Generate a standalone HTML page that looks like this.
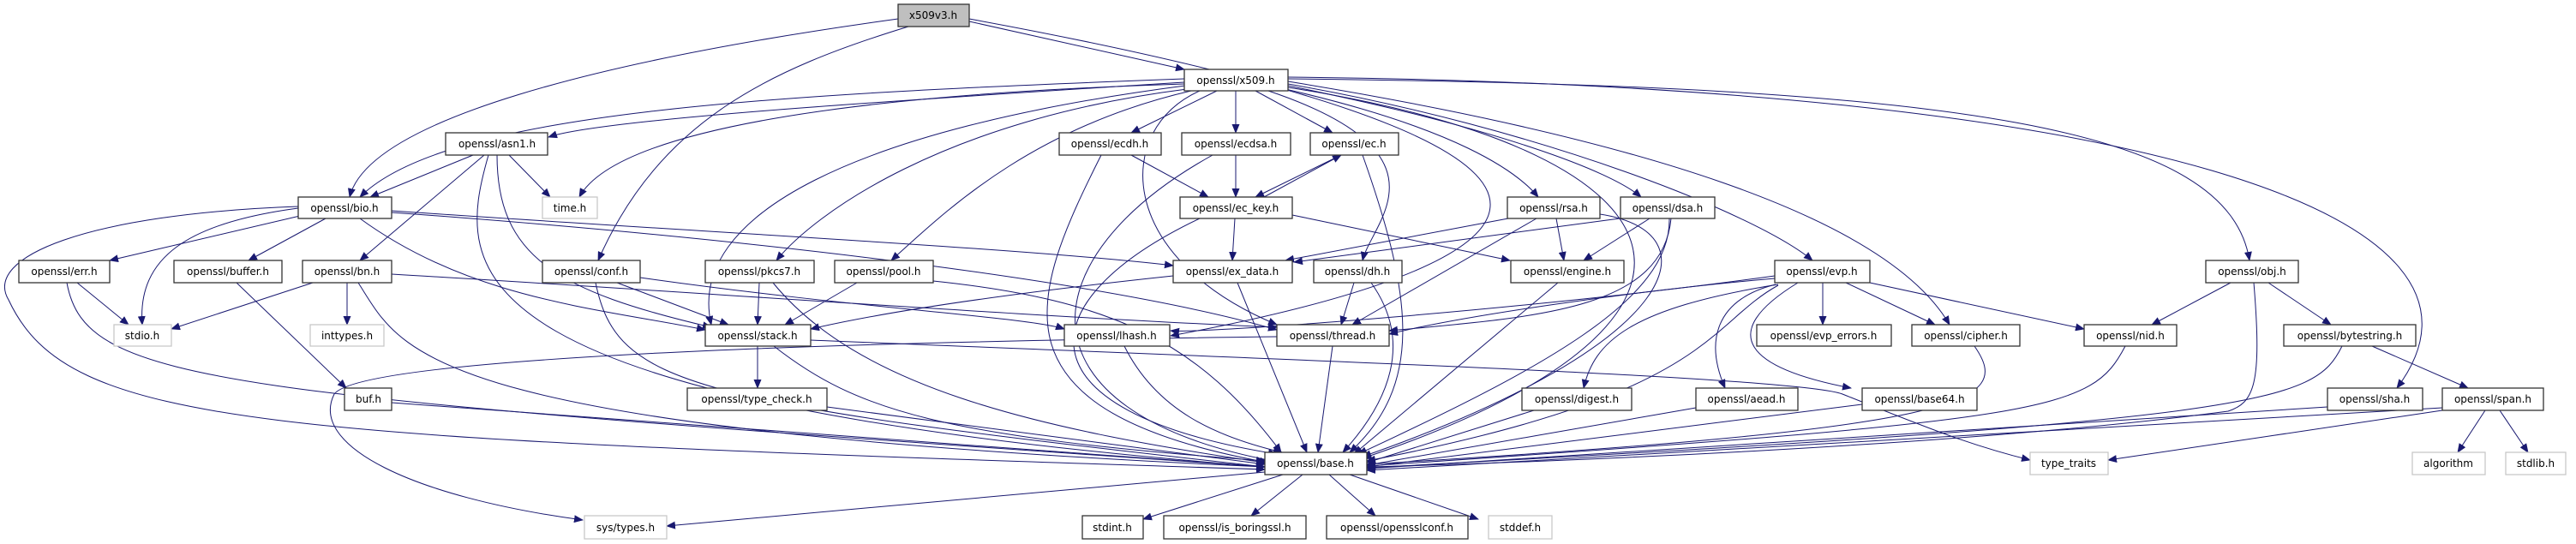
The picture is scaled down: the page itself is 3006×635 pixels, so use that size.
<!DOCTYPE html>
<html><head><meta charset="utf-8"><style>
html,body{margin:0;padding:0;background:#fff;}
svg{display:block;}
text{font-family:"DejaVu Sans","Liberation Sans",sans-serif;font-size:12px;fill:#000;}
</style></head><body>
<svg width="3006" height="635" viewBox="0 0 3006 635" xmlns="http://www.w3.org/2000/svg">
<defs>
<marker id="a" markerWidth="11" markerHeight="9" refX="10" refY="4.5" orient="auto" markerUnits="userSpaceOnUse">
<path d="M0,0 L11,4.5 L0,9 z" fill="#191970"/>
</marker>
</defs>
<g fill="none" stroke="#191970" stroke-width="1" marker-end="url(#a)">
<path d="M1131 25 L1382 81"/>
<path d="M1048 22 C700 70 430 140 408 230"/>
<path d="M1060 31 C900 80 770 140 698 304"/>
<path d="M1131 22 C2100 200 1700 330 1366 392"/>
<path d="M1382 96 C1000 120 700 140 640 160"/>
<path d="M1382 92 C900 110 520 130 420 230"/>
<path d="M1382 98 C1000 110 720 150 676 230"/>
<path d="M1420 106 L1320 155"/>
<path d="M1442 106 L1442 155"/>
<path d="M1465 106 L1555 155"/>
<path d="M1390 106 C1200 150 1100 250 1040 304"/>
<path d="M1385 104 C1100 140 950 250 906 304"/>
<path d="M1383 100 C1000 150 800 250 830 379"/>
<path d="M1400 106 C1300 150 1300 300 1490 379"/>
<path d="M1480 106 C1700 180 1600 260 1590 304"/>
<path d="M1500 104 C1700 150 1770 200 1795 230"/>
<path d="M1503 100 C1750 150 1880 200 1915 230"/>
<path d="M1503 98 C1800 150 2050 250 2115 304"/>
<path d="M1503 95 C1900 160 2200 250 2275 379"/>
<path d="M1503 92 C2300 100 2600 150 2625 304"/>
<path d="M1503 90 C2500 100 2950 250 2797 453"/>
<path d="M1503 102 C2000 180 2050 380 1590 535"/>
<path d="M1320 181 L1410 230"/>
<path d="M1285 181 C1200 350 1150 480 1480 540"/>
<path d="M1442 181 L1442 230"/>
<path d="M1415 181 C1200 300 1180 480 1485 538"/>
<path d="M1565 181 L1465 230"/>
<path d="M1475 230 L1565 181"/>
<path d="M1590 181 C1650 350 1660 450 1575 528"/>
<path d="M1441 255 L1438 304"/>
<path d="M1508 251 L1762 304"/>
<path d="M1400 255 C1200 350 1180 480 1490 530"/>
<path d="M552 181 L432 230"/>
<path d="M594 181 L642 230"/>
<path d="M565 181 L420 304"/>
<path d="M580 181 C580 300 650 340 830 382"/>
<path d="M570 181 C530 320 520 470 1476 545"/>
<path d="M350 252 L128 304"/>
<path d="M380 255 L290 304"/>
<path d="M348 243 C220 260 160 300 166 379"/>
<path d="M420 255 C550 350 700 360 823 385"/>
<path d="M457 246 C800 270 1200 290 1369 310"/>
<path d="M457 248 C900 280 1300 330 1490 385"/>
<path d="M348 241 C100 250 -20 300 10 350 C80 500 300 510 1476 548"/>
<path d="M90 330 L150 379"/>
<path d="M78 330 C100 450 250 460 1476 545"/>
<path d="M276 330 L404 453"/>
<path d="M457 470 L1476 545"/>
<path d="M365 330 L200 384"/>
<path d="M405 330 L405 379"/>
<path d="M418 330 C470 410 480 500 1476 545"/>
<path d="M457 320 C800 340 1200 370 1490 382"/>
<path d="M720 330 L850 379"/>
<path d="M747 324 C1000 360 1200 370 1242 384"/>
<path d="M695 330 C720 450 800 470 1476 545"/>
<path d="M886 330 L884 379"/>
<path d="M902 330 C1000 450 1200 500 1476 540"/>
<path d="M1000 330 L916 379"/>
<path d="M1089 328 C1300 350 1400 400 1495 528"/>
<path d="M1369 322 C1200 340 1050 360 946 384"/>
<path d="M1444 330 L1525 528"/>
<path d="M1760 255 L1500 304"/>
<path d="M1816 255 L1825 304"/>
<path d="M1793 255 L1578 379"/>
<path d="M1867 250 C2000 270 1970 400 1590 533"/>
<path d="M1890 255 L1510 306"/>
<path d="M1925 255 L1848 304"/>
<path d="M1950 255 C1940 360 1800 370 1621 386"/>
<path d="M1948 255 C1950 350 1800 430 1585 530"/>
<path d="M1580 330 L1565 379"/>
<path d="M1600 330 C1650 400 1620 470 1567 528"/>
<path d="M1818 330 L1580 530"/>
<path d="M1312 404 C1350 480 1420 510 1496 528"/>
<path d="M1555 404 L1538 528"/>
<path d="M2127 330 L2127 379"/>
<path d="M2154 330 L2258 379"/>
<path d="M2182 330 L2432 384"/>
<path d="M2075 332 C1900 360 1860 400 1848 453"/>
<path d="M2072 332 C2000 350 1990 400 2013 453"/>
<path d="M2098 330 C2000 390 2040 430 2160 453"/>
<path d="M2071 325 C1900 340 1700 370 1621 390"/>
<path d="M2071 322 C1800 360 1400 390 1366 386"/>
<path d="M2075 333 C1990 380 2000 460 1595 538"/>
<path d="M2603 330 L2511 379"/>
<path d="M2647 330 L2720 379"/>
<path d="M2630 330 C2640 450 2630 470 2600 480 C2300 520 1800 540 1595 545"/>
<path d="M2304 404 C2350 470 2300 500 1595 542"/>
<path d="M2480 404 C2440 480 2400 490 1595 544"/>
<path d="M2768 404 L2880 453"/>
<path d="M2733 404 C2700 470 2650 490 1595 546"/>
<path d="M2716 475 L1595 547"/>
<path d="M2850 476 L1595 549"/>
<path d="M2850 479 L2460 537"/>
<path d="M2900 479 L2868 528"/>
<path d="M2917 479 L2950 528"/>
<path d="M1790 479 L1595 540"/>
<path d="M1979 476 L1595 543"/>
<path d="M2173 472 L1595 545"/>
<path d="M884 404 L884 453"/>
<path d="M903 404 C1000 480 1100 510 1476 538"/>
<path d="M946 397 C1500 420 2100 440 2150 460 C2250 500 2300 520 2369 537"/>
<path d="M965 475 L1476 542"/>
<path d="M1497 554 L1334 606"/>
<path d="M1520 554 L1460 602"/>
<path d="M1551 554 L1605 602"/>
<path d="M1575 554 L1725 606"/>
<path d="M1476 551 L778 614"/>
<path d="M1490 393 C900 400 420 420 390 460 C360 520 480 580 680 607"/>
</g>
<g stroke-width="1.3">
<g stroke="#333" fill="#fff">
<rect x="1048" y="5" width="83" height="26" fill="#bfbfbf"/>
<rect x="1382" y="81" width="121" height="25"/>
<rect x="520" y="155" width="119" height="26"/>
<rect x="1236" y="155" width="119" height="26"/>
<rect x="1379" y="155" width="127" height="26"/>
<rect x="1529" y="155" width="103" height="26"/>
<rect x="348" y="230" width="109" height="25"/>
<rect x="1377" y="230" width="131" height="25"/>
<rect x="1759" y="230" width="108" height="25"/>
<rect x="1891" y="230" width="110" height="25"/>
<rect x="22" y="304" width="106" height="26"/>
<rect x="203" y="304" width="126" height="26"/>
<rect x="353" y="304" width="104" height="26"/>
<rect x="633" y="304" width="114" height="26"/>
<rect x="823" y="304" width="127" height="26"/>
<rect x="974" y="304" width="115" height="26"/>
<rect x="1369" y="304" width="139" height="26"/>
<rect x="1533" y="304" width="103" height="26"/>
<rect x="1763" y="304" width="132" height="26"/>
<rect x="2071" y="304" width="111" height="26"/>
<rect x="2574" y="304" width="108" height="26"/>
<rect x="823" y="379" width="123" height="25"/>
<rect x="1242" y="379" width="123" height="25"/>
<rect x="1490" y="379" width="131" height="25"/>
<rect x="2050" y="379" width="157" height="25"/>
<rect x="2231" y="379" width="126" height="25"/>
<rect x="2432" y="379" width="108" height="25"/>
<rect x="2665" y="379" width="154" height="25"/>
<rect x="402" y="453" width="55" height="26"/>
<rect x="802" y="453" width="163" height="26"/>
<rect x="1776" y="453" width="128" height="26"/>
<rect x="1979" y="453" width="119" height="26"/>
<rect x="2173" y="453" width="134" height="26"/>
<rect x="2716" y="453" width="111" height="26"/>
<rect x="2850" y="453" width="118" height="26"/>
<rect x="1476" y="528" width="119" height="26"/>
<rect x="1263" y="602" width="71" height="27"/>
<rect x="1358" y="602" width="166" height="27"/>
<rect x="1548" y="602" width="165" height="27"/>
</g>
<g stroke="#c8c8c8" fill="#fff">
<rect x="633" y="230" width="64" height="25"/>
<rect x="133" y="379" width="67" height="25"/>
<rect x="362" y="379" width="86" height="25"/>
<rect x="2369" y="528" width="91" height="26"/>
<rect x="2815" y="528" width="85" height="26"/>
<rect x="2924" y="528" width="70" height="26"/>
<rect x="1737" y="602" width="74" height="27"/>
<rect x="682" y="602" width="96" height="27"/>
</g>
</g>
<g text-anchor="middle">
<text x="1089" y="22">x509v3.h</text>
<text x="1442" y="98">openssl/x509.h</text>
<text x="580" y="172">openssl/asn1.h</text>
<text x="1295" y="172">openssl/ecdh.h</text>
<text x="1442" y="172">openssl/ecdsa.h</text>
<text x="1580" y="172">openssl/ec.h</text>
<text x="402" y="247">openssl/bio.h</text>
<text x="665" y="247">time.h</text>
<text x="1442" y="247">openssl/ec_key.h</text>
<text x="1813" y="247">openssl/rsa.h</text>
<text x="1946" y="247">openssl/dsa.h</text>
<text x="75" y="321">openssl/err.h</text>
<text x="266" y="321">openssl/buffer.h</text>
<text x="405" y="321">openssl/bn.h</text>
<text x="690" y="321">openssl/conf.h</text>
<text x="886" y="321">openssl/pkcs7.h</text>
<text x="1031" y="321">openssl/pool.h</text>
<text x="1438" y="321">openssl/ex_data.h</text>
<text x="1584" y="321">openssl/dh.h</text>
<text x="1829" y="321">openssl/engine.h</text>
<text x="2126" y="321">openssl/evp.h</text>
<text x="2628" y="321">openssl/obj.h</text>
<text x="166" y="396">stdio.h</text>
<text x="405" y="396">inttypes.h</text>
<text x="884" y="396">openssl/stack.h</text>
<text x="1303" y="396">openssl/lhash.h</text>
<text x="1555" y="396">openssl/thread.h</text>
<text x="2128" y="396">openssl/evp_errors.h</text>
<text x="2294" y="396">openssl/cipher.h</text>
<text x="2486" y="396">openssl/nid.h</text>
<text x="2742" y="396">openssl/bytestring.h</text>
<text x="430" y="470">buf.h</text>
<text x="883" y="470">openssl/type_check.h</text>
<text x="1840" y="470">openssl/digest.h</text>
<text x="2038" y="470">openssl/aead.h</text>
<text x="2240" y="470">openssl/base64.h</text>
<text x="2771" y="470">openssl/sha.h</text>
<text x="2909" y="470">openssl/span.h</text>
<text x="1535" y="545">openssl/base.h</text>
<text x="2414" y="545">type_traits</text>
<text x="2857" y="545">algorithm</text>
<text x="2959" y="545">stdlib.h</text>
<text x="1298" y="620">stdint.h</text>
<text x="1441" y="620">openssl/is_boringssl.h</text>
<text x="1630" y="620">openssl/opensslconf.h</text>
<text x="1774" y="620">stddef.h</text>
<text x="730" y="620">sys/types.h</text>
</g>
</svg>
</body></html>
